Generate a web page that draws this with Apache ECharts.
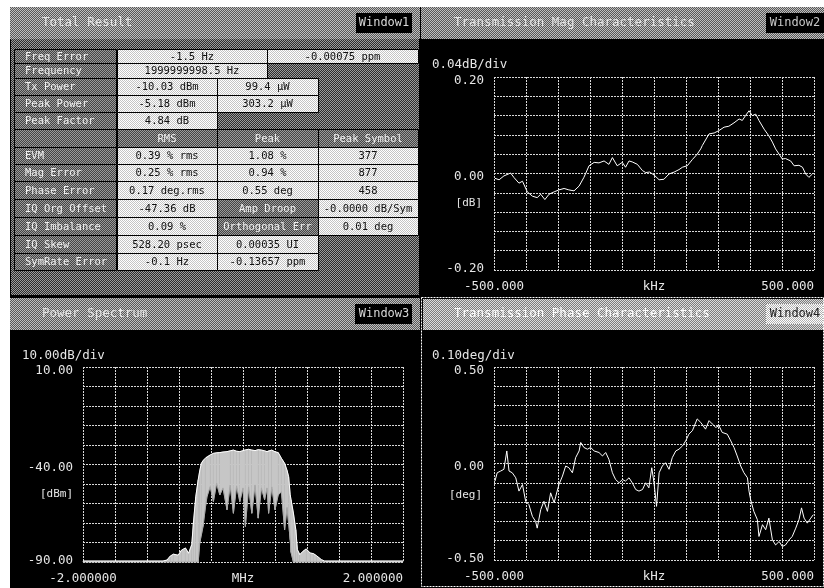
<!DOCTYPE html>
<html>
<head>
<meta charset="utf-8">
<script src="https://cdn.jsdelivr.net/npm/echarts@6/dist/echarts.min.js"></script>
<style>
  html, body { margin: 0; padding: 0; background: #fff; }
  #chart { width: 824px; height: 588px; }
</style>
</head>
<body>
<div id="chart"></div>
<script>
// ---- Transmission Mag Characteristics (kHz / dB)
const magFreq = [
  -497, -484, -469, -448, -438, -422, -411, -396, -380, -365,
  -354, -341, -328, -312, -297, -281, -266, -250, -234, -219,
  -203, -187, -172, -156, -141, -130, -115, -99, -89, -78,
  -68, -52, -36, -26, -14, 0, 16, 31, 47, 63,
  78, 89, 104, 120, 135, 146, 151, 172, 188, 203,
  219, 234, 250, 266, 276, 286, 297, 307, 318, 328,
  344, 359, 370, 380, 391, 401, 411, 427, 438, 453,
  464, 474, 484, 495
];
const magDb = [
  -0.010, -0.013, -0.005, 0.001, -0.008, -0.020, -0.016, -0.038, -0.047, -0.050,
  -0.043, -0.054, -0.043, -0.038, -0.034, -0.031, -0.034, -0.036, -0.026, -0.008,
  0.016, 0.023, 0.022, 0.026, 0.019, 0.033, 0.016, 0.023, 0.013, 0.026,
  0.024, 0.019, 0.006, 0.002, 0.003, -0.003, -0.013, -0.012, -0.001, 0.003,
  0.008, 0.013, 0.016, 0.029, 0.040, 0.051, 0.058, 0.082, 0.084, 0.089,
  0.096, 0.098, 0.105, 0.113, 0.110, 0.120, 0.130, 0.120, 0.123, 0.110,
  0.092, 0.078, 0.065, 0.051, 0.040, 0.030, 0.031, 0.026, 0.016, 0.017,
  0.013, -0.001, -0.008, -0.001
];

// ---- Power Spectrum (MHz / dBm), max and min trace
const specFreq = [
  -2.0, -1.5, -1.0, -0.95, -0.91, -0.87, -0.81, -0.77, -0.72, -0.68,
  -0.64, -0.62, -0.59, -0.56, -0.54, -0.52, -0.50, -0.47, -0.45, -0.41,
  -0.37, -0.33, -0.29, -0.25, -0.20, -0.16, -0.12, -0.08, -0.04, 0.00,
  0.03, 0.07, 0.11, 0.15, 0.19, 0.23, 0.27, 0.30, 0.32, 0.36,
  0.40, 0.44, 0.48, 0.52, 0.55, 0.57, 0.59, 0.60, 0.63, 0.66,
  0.68, 0.71, 0.75, 0.79, 0.84, 0.88, 0.92, 0.98, 1.02, 1.5,
  2.0
];
const specMax = [
  -89.5, -89.5, -89.5, -89, -87, -86, -86.5, -84, -82.8, -85.5,
  -81, -70, -56.4, -47.9, -43, -39.4, -38, -36.8, -36, -35.1,
  -34.3, -34, -33.9, -33.6, -33.4, -33, -32.6, -33.2, -33.4, -32.9,
  -32.5, -32.2, -32.6, -32.9, -32.4, -32.6, -33, -33.4, -33, -32.6,
  -33.5, -33.9, -36.8, -39.4, -43, -46.2, -55.5, -58, -64.9, -73.5,
  -83.7, -86.2, -84.5, -83.3, -85.4, -85.7, -86.8, -88.8, -89.5, -89.5,
  -89.5
];
const specMin = [
  -90, -90, -90, -90, -90, -90, -90, -90, -90, -90,
  -90, -90, -90, -90, -80, -76, -71.8, -62, -56.4, -51.3,
  -59, -49.6, -55.6, -52, -63.2, -50.5, -65, -51, -59, -52,
  -71.8, -51.5, -65, -50.5, -67.5, -52, -58, -52, -65, -51.5,
  -63.2, -55.6, -54, -73.5, -62, -70, -78.6, -85, -90, -90,
  -90, -90, -90, -90, -90, -90, -90, -90, -90, -90,
  -90
];

// ---- Transmission Phase Characteristics (kHz / deg)
const phaseFreq = [
  -497, -490, -479, -469, -460, -453, -443, -432, -422, -411,
  -401, -391, -380, -370, -365, -354, -344, -333, -323, -312,
  -307, -297, -286, -276, -266, -255, -245, -234, -229, -219,
  -208, -198, -187, -172, -161, -151, -141, -130, -120, -109,
  -99, -89, -78, -68, -57, -47, -36, -26, -16, -7,
  0, 8, 16, 26, 36, 47, 57, 68, 78, 89,
  99, 109, 120, 125, 135, 146, 161, 172, 182, 193,
  203, 213, 229, 240, 250, 260, 271, 281, 292, 297,
  302, 312, 323, 328, 339, 349, 359, 370, 380, 391,
  401, 411, 422, 432, 443, 453, 461, 469, 479, 490,
  498
];
const phaseDeg = [
  -0.091, -0.048, -0.039, -0.030, 0.065, -0.039, -0.048, -0.074, -0.143, -0.109,
  -0.196, -0.213, -0.274, -0.300, -0.335, -0.239, -0.196, -0.248, -0.152, -0.204,
  -0.170, -0.109, -0.065, -0.013, -0.022, -0.048, 0.030, 0.065, 0.109, 0.083,
  0.074, 0.083, 0.065, 0.057, 0.039, 0.057, 0.022, -0.048, -0.083, -0.100,
  -0.083, -0.091, -0.074, -0.100, -0.135, -0.143, -0.135, -0.100, -0.126, -0.022,
  -0.100, -0.222, -0.048, -0.013, 0.004, -0.030, 0.030, 0.065, 0.074, 0.091,
  0.117, 0.152, 0.170, 0.178, 0.231, 0.213, 0.178, 0.222, 0.205, 0.187,
  0.196, 0.161, 0.152, 0.117, 0.083, 0.039, -0.013, -0.048, -0.074, -0.143,
  -0.187, -0.248, -0.291, -0.378, -0.317, -0.343, -0.283, -0.396, -0.422, -0.404,
  -0.430, -0.422, -0.396, -0.378, -0.335, -0.291, -0.230, -0.283, -0.309, -0.283,
  -0.265
];

// ---- axis tick labels (min, centre, max)
const magXLabels = ['-500.000', 'kHz', '500.000'];
const magYLabels = ['-0.20', '0.00', '0.20'];
const specXLabels = ['-2.000000', 'MHz', '2.000000'];
const specYLabels = ['-90.00', '-40.00', '10.00'];
const phaseXLabels = ['-500.000', 'kHz', '500.000'];
const phaseYLabels = ['-0.50', '0.00', '0.50'];

// ---- Total Result table
const rowLabels = ['Freq Error', 'Frequency', 'Tx Power', 'Peak Power', 'Peak Factor', '',
  'EVM', 'Mag Error', 'Phase Error', 'IQ Org Offset', 'IQ Imbalance', 'IQ Skew', 'SymRate Error'];
const colA = ['-1.5 Hz', '1999999998.5 Hz', '-10.03 dBm', '-5.18 dBm', '4.84 dB', 'RMS',
  '0.39 % rms', '0.25 % rms', '0.17 deg.rms', '-47.36 dB', '0.09 %', '528.20 psec', '-0.1 Hz'];
const colB = ['-0.00075 ppm', null, '99.4 μW', '303.2 μW', null, 'Peak',
  '1.08 %', '0.94 %', '0.55 deg', 'Amp Droop', 'Orthogonal Err', '0.00035 UI', '-0.13657 ppm'];
const colC = [null, null, null, null, null, 'Peak Symbol',
  '377', '877', '458', '-0.0000 dB/Sym', '0.01 deg', null, null];

const FONT = '"DejaVu Sans Mono", monospace';
const TXT = '#e6e6e6';

function dither(a, b) {
  const c = document.createElement('canvas');
  c.width = 2; c.height = 2;
  const g = c.getContext('2d');
  g.fillStyle = a; g.fillRect(0, 0, 2, 2);
  g.fillStyle = b; g.fillRect(0, 0, 1, 1); g.fillRect(1, 1, 1, 1);
  return { image: c, repeat: 'repeat' };
}
const patHeader = dither('#585858', '#c0c0c0');
const patHeaderSel = dither('#7c7c7c', '#dcdcdc');
const patBody = dither('#2c2c2c', '#9c9c9c');
const patLabel = dither('#444444', '#9a9a9a');
const patValue = dither('#ffffff', '#c4c4c4');

const els = [];
function rect(x, y, w, h, fill, stroke) {
  els.push({ type: 'rect', silent: true, shape: { x: x, y: y, width: w, height: h },
    style: { fill: fill, stroke: stroke || null, lineWidth: 1 } });
}
function text(x, y, s, fill, size, align) {
  els.push({ type: 'text', silent: true, x: x, y: y,
    style: { text: s, fill: fill, font: size + 'px ' + FONT, align: align || 'left', verticalAlign: 'middle' } });
}

// page margins and panel frames
rect(0, 0, 824, 7, '#fff');
rect(0, 0, 10, 588, '#fff');
rect(10.5, 7.5, 409, 288, patBody, '#000');
rect(10, 7, 410, 32, patHeader);
rect(421, 7, 403, 32, patHeader);
rect(10, 298, 410, 32, patHeader);
rect(423, 299, 401, 31, patHeaderSel);

// panel headers
text(42, 23, 'Total Result', TXT, 12.5);
text(454, 23, 'Transmission Mag Characteristics', TXT, 12.5);
text(42, 314, 'Power Spectrum', TXT, 12.5);
text(454, 314, 'Transmission Phase Characteristics', '#ffffff', 12.5);
rect(356, 13, 56, 20, '#000');
text(384, 23, 'Window1', '#d8d8d8', 12, 'center');
rect(766, 13, 58, 20, '#000');
text(795, 23, 'Window2', '#c8c8c8', 12, 'center');
rect(355, 304, 57, 20, '#000');
text(384, 314, 'Window3', '#d8d8d8', 12, 'center');
rect(766, 304, 57, 20, dither('#ffffff', '#b0b0b0'));
text(795, 314, 'Window4', '#202020', 12, 'center');

// table layout: cell spans per row, 'v' = value cell, 'd' = dark cell
const rowTops = [49, 63, 78, 95, 112, 129, 147, 164, 181, 199, 217, 235, 253, 270];
const three = [[117, 217, 'v'], [217, 318, 'v'], [318, 418, 'v']];
const rowCells = [
  [[117, 267, 'v'], [267, 418, 'v']],
  [[117, 267, 'v']],
  [[117, 217, 'v'], [217, 318, 'v']],
  [[117, 217, 'v'], [217, 318, 'v']],
  [[117, 217, 'v']],
  [[117, 217, 'd'], [217, 318, 'd'], [318, 418, 'd']],
  three, three, three,
  [[117, 217, 'v'], [217, 318, 'd'], [318, 418, 'v']],
  [[117, 217, 'v'], [217, 318, 'd'], [318, 418, 'v']],
  [[117, 217, 'v'], [217, 318, 'v']],
  [[117, 217, 'v'], [217, 318, 'v']]
];
rowLabels.forEach(function (lab, i) {
  const y0 = rowTops[i], h = rowTops[i + 1] - y0;
  rect(14.5, y0 + 0.5, 102, h, patLabel, '#000');
  if (lab) text(25, y0 + h / 2 + 1, lab, '#f2f2f2', 10.5);
  const vals = [colA[i], colB[i], colC[i]].filter(function (t) { return t != null; });
  rowCells[i].forEach(function (c, j) {
    const dark = c[2] === 'd';
    rect(c[0] + 0.5, y0 + 0.5, c[1] - c[0], h, dark ? patLabel : patValue, '#000');
    if (vals[j]) text((c[0] + c[1]) / 2, y0 + h / 2 + 1, vals[j], dark ? '#f2f2f2' : '#101010', 10.5, 'center');
  });
});

// scale and unit texts
text(432, 65, '0.04dB/div', TXT, 12.5);
text(482, 203, '[dB]', TXT, 11, 'right');
text(22, 356, '10.00dB/div', TXT, 12.5);
text(73, 494, '[dBm]', TXT, 11, 'right');
text(432, 356, '0.10deg/div', TXT, 12.5);
text(482, 495, '[deg]', TXT, 11, 'right');

// active window frame
els.push({ type: 'rect', silent: true, z: 10, shape: { x: 421.5, y: 297.5, width: 402, height: 289 },
  style: { fill: 'none', stroke: '#fff', lineWidth: 1, lineDash: [2, 1] } });

function near(a, b) { return Math.abs(a - b) < 1e-6; }
function edgeFmt(min, max, labels, rich) {
  return function (v) {
    let s = '', k = 'b';
    if (near(v, min)) { s = labels[0]; k = 'b'; }
    else if (near(v, (min + max) / 2)) { s = labels[1]; k = 't'; }
    else if (near(v, max)) { s = labels[2]; k = 't'; }
    if (!s) return '';
    return rich ? '{' + k + '|' + s + '}' : s;
  };
}
const lab = { color: TXT, fontFamily: FONT, fontSize: 12.5 };
const gridLine = { show: true, lineStyle: { color: '#d8d8d8', width: 1, type: [2, 1] } };
function xAx(i, min, max, step, labels) {
  return {
    type: 'value', gridIndex: i, min: min, max: max, interval: step,
    axisLine: { show: false }, axisTick: { show: false }, splitLine: gridLine,
    axisLabel: Object.assign({ margin: 10, showMinLabel: true, showMaxLabel: true,
      alignMaxLabel: 'right', formatter: edgeFmt(min, max, labels, false) }, lab)
  };
}
function yAx(i, min, max, step, labels) {
  return {
    type: 'value', gridIndex: i, min: min, max: max, interval: step,
    axisLine: { show: false }, axisTick: { show: false }, splitLine: gridLine,
    axisLabel: Object.assign({ margin: 10, showMinLabel: true, showMaxLabel: true,
      formatter: edgeFmt(min, max, labels, true),
      rich: {
        t: Object.assign({ padding: [7, 0, 0, 0] }, lab),
        b: Object.assign({ padding: [0, 0, 2, 0] }, lab)
      } }, lab)
  };
}
function pairs(xs, ys) { return xs.map(function (x, i) { return [x, ys[i]]; }); }

// spectrum band: one quad per step between the max and min traces
const specBand = specFreq.slice(0, -1).map(function (f, i) {
  return [f, specMax[i], specMin[i], specFreq[i + 1], specMax[i + 1], specMin[i + 1]];
});

const chart = echarts.init(document.getElementById('chart'));
chart.setOption({
  backgroundColor: '#000',
  animation: false,
  graphic: { elements: els },
  grid: [
    { left: 494, top: 77, width: 320, height: 193 },
    { left: 83, top: 367, width: 320, height: 195 },
    { left: 494, top: 367, width: 320, height: 193 }
  ],
  xAxis: [
    xAx(0, -500, 500, 100, magXLabels),
    xAx(1, -2, 2, 0.4, specXLabels),
    xAx(2, -500, 500, 100, phaseXLabels)
  ],
  yAxis: [
    yAx(0, -0.2, 0.2, 0.04, magYLabels),
    yAx(1, -90, 10, 10, specYLabels),
    yAx(2, -0.5, 0.5, 0.1, phaseYLabels)
  ],
  series: [
    { name: 'mag', type: 'line', xAxisIndex: 0, yAxisIndex: 0, symbol: 'none', silent: true,
      lineStyle: { color: '#ffffff', width: 1 }, data: pairs(magFreq, magDb) },
    { name: 'specBand', type: 'custom', xAxisIndex: 1, yAxisIndex: 1, silent: true,
      encode: { x: [0, 3], y: [1, 2, 4, 5] },
      data: specBand,
      renderItem: function (params, api) {
        const pts = [
          api.coord([api.value(0), api.value(1)]),
          api.coord([api.value(3), api.value(4)]),
          api.coord([api.value(3), api.value(5)]),
          api.coord([api.value(0), api.value(2)])
        ];
        return { type: 'polygon', shape: { points: pts },
          style: { fill: '#c6c6c6', stroke: '#c6c6c6', lineWidth: 0.6 } };
      } },
    { name: 'specMin', type: 'line', xAxisIndex: 1, yAxisIndex: 1, symbol: 'none', silent: true,
      lineStyle: { color: '#a8a8a8', width: 1 }, data: pairs(specFreq, specMin) },
    { name: 'specMax', type: 'line', xAxisIndex: 1, yAxisIndex: 1, symbol: 'none', silent: true,
      lineStyle: { color: '#ffffff', width: 1 }, data: pairs(specFreq, specMax) },
    { name: 'phase', type: 'line', xAxisIndex: 2, yAxisIndex: 2, symbol: 'none', silent: true,
      lineStyle: { color: '#ffffff', width: 1 }, data: pairs(phaseFreq, phaseDeg) }
  ]
});
</script>
</body>
</html>
